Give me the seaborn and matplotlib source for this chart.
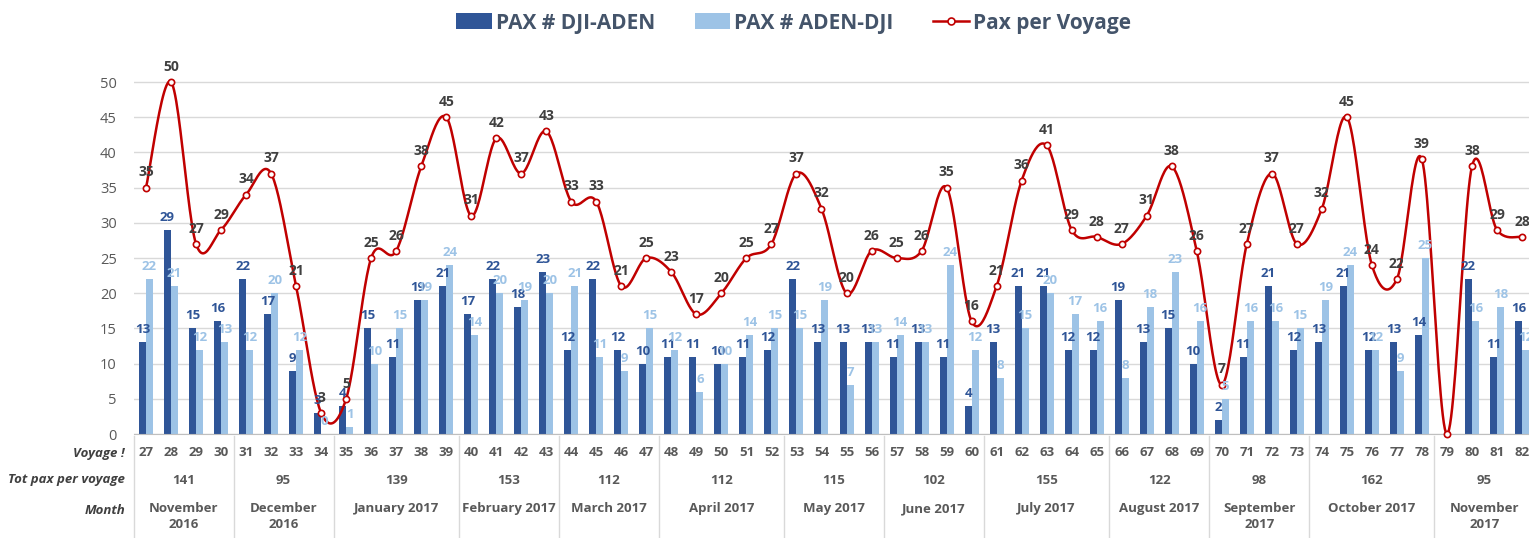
import numpy as np
import pandas as pd
import seaborn as sns
import matplotlib.pyplot as plt
from matplotlib.patches import Patch
from matplotlib.lines import Line2D
from matplotlib.transforms import blended_transform_factory

# data
voyages = list(range(27, 83))
dji_aden = [13, 29, 15, 16, 22, 17, 9, 3, 4, 15, 11, 19, 21, 17, 22, 18, 23, 12, 22, 12,
            10, 11, 11, 10, 11, 12, 22, 13, 13, 13, 11, 13, 11, 4, 13, 21, 21, 12, 12, 19,
            13, 15, 10, 2, 11, 21, 12, 13, 21, 12, 13, 14, None, 22, 11, 16]
aden_dji = [22, 21, 12, 13, 12, 20, 12, 0, 1, 10, 15, 19, 24, 14, 20, 19, 20, 21, 11, 9,
            15, 12, 6, 10, 14, 15, 15, 19, 7, 13, 14, 13, 24, 12, 8, 15, 20, 17, 16, 8,
            18, 23, 16, 5, 16, 16, 15, 19, 24, 12, 9, 25, None, 16, 18, 12]
pax_per_voyage = [35, 50, 27, 29, 34, 37, 21, 3, 5, 25, 26, 38, 45, 31, 42, 37, 43, 33, 33, 21,
                  25, 23, 17, 20, 25, 27, 37, 32, 20, 26, 25, 26, 35, 16, 21, 36, 41, 29, 28, 27,
                  31, 38, 26, 7, 27, 37, 27, 32, 45, 24, 22, 39, 0, 38, 29, 28]
months = ["November\n2016", "December\n2016", "January 2017", "February 2017", "March 2017",
          "April 2017", "May 2017", "June 2017", "July 2017", "August 2017",
          "September\n2017", "October 2017", "November\n2017"]
month_sizes = [4, 4, 5, 4, 4, 5, 4, 4, 5, 4, 4, 5, 4]
month_totals = [141, 95, 139, 153, 112, 112, 115, 102, 155, 122, 98, 162, 95]

DARK = "#2F5597"
LIGHT = "#9DC3E6"
RED = "#C00000"
GREY = "#595959"

plt.rcParams["font.family"] = ["Open Sans", "DejaVu Sans"]

df = pd.DataFrame({
    "Voyage": [str(v) for v in voyages] * 2,
    "Pax": [np.nan if v is None else v for v in dji_aden + aden_dji],
    "Route": ["PAX # DJI-ADEN"] * len(voyages) + ["PAX # ADEN-DJI"] * len(voyages),
})

fig = plt.figure(figsize=(15.29, 5.38), dpi=100)
ax = fig.add_axes([133.5 / 1529, 104 / 538, 1401 / 1529, 387.2 / 538])

sns.barplot(data=df, x="Voyage", y="Pax", hue="Route", order=[str(v) for v in voyages],
            palette=[DARK, LIGHT], width=0.56, saturation=1, legend=False, ax=ax, zorder=2)

# bar labels
for cont, col in zip(ax.containers, [DARK, LIGHT]):
    for p in cont:
        h = p.get_height()
        if np.isnan(h):
            continue
        ax.annotate(f"{int(h)}", (p.get_x() + p.get_width() / 2, h), xytext=(0, 9),
                    textcoords="offset points", ha="center", va="center",
                    color=col, fontsize=9.5, fontweight="bold", zorder=5)

# smoothed line (Excel-style bezier through the points)
x = np.arange(len(pax_per_voyage), dtype=float)
y = np.array(pax_per_voyage, dtype=float)
px = np.concatenate([[x[0]], x, [x[-1]]])
py = np.concatenate([[y[0]], y, [y[-1]]])
t = np.linspace(0, 1, 25)
cx, cy = [], []
for i in range(1, len(px) - 2):
    p0 = np.array([px[i], py[i]])
    p3 = np.array([px[i + 1], py[i + 1]])
    c1 = p0 + (np.array([px[i + 1], py[i + 1]]) - np.array([px[i - 1], py[i - 1]])) / 6
    c2 = p3 - (np.array([px[i + 2], py[i + 2]]) - np.array([px[i], py[i]])) / 6
    pts = ((1 - t) ** 3)[:, None] * p0 + (3 * (1 - t) ** 2 * t)[:, None] * c1 \
        + (3 * (1 - t) * t ** 2)[:, None] * c2 + (t ** 3)[:, None] * p3
    cx.extend(pts[:, 0])
    cy.extend(pts[:, 1])
ax.plot(cx, cy, color=RED, lw=1.8, zorder=3, clip_on=False)
ax.plot(x, y, "o", ms=4.5, mfc="white", mec=RED, mew=1.2, zorder=4, clip_on=False)
for xi, yi in zip(x, pax_per_voyage):
    if yi == 0:
        continue
    ax.annotate(f"{yi}", (xi, yi), xytext=(0, 11), textcoords="offset points",
                ha="center", va="center", color="#404040", fontsize=10,
                fontweight="bold", zorder=5)

ax.set_xlim(-0.5, len(voyages) - 0.5)
ax.set_ylim(0, 55)
ax.set_yticks(range(0, 51, 5))
ax.yaxis.grid(True, color="#D9D9D9", lw=1, zorder=0)
ax.xaxis.grid(False)
ax.set_axisbelow(True)
for s in ["top", "right", "left"]:
    ax.spines[s].set_visible(False)
ax.spines["bottom"].set_color("#BFBFBF")
ax.tick_params(axis="y", length=0, pad=12, labelsize=10.5, labelcolor=GREY)
ax.set_xticks([])
ax.set_xlabel("")
ax.set_ylabel("")
ax.set_facecolor("white")

# table under the chart
tr = blended_transform_factory(ax.transData, fig.transFigure)
hx = 125 / 1529
for label, yy in [("Voyage !", 453), ("Tot pax per voyage", 480), ("Month", 510)]:
    fig.text(hx, 1 - yy / 538, label, ha="right", va="center", fontsize=9.5,
             fontweight="bold", style="italic", color="#404040")
for i, v in enumerate(voyages):
    ax.text(i, 1 - 453 / 538, str(v), transform=tr, ha="center", va="center",
            fontsize=9.5, fontweight="bold", color=GREY)
start = 0
ax.plot([-0.5, -0.5], [0, 1 - 436 / 538], transform=tr, color="#D9D9D9", lw=1, clip_on=False)
for m, n, tot in zip(months, month_sizes, month_totals):
    mid = start + (n - 1) / 2
    ax.text(mid, 1 - 480 / 538, str(tot), transform=tr, ha="center", va="center",
            fontsize=9.5, fontweight="bold", color=GREY)
    ax.text(mid, 1 - 502 / 538, m, transform=tr, ha="center", va="top",
            fontsize=9.5, fontweight="bold", color=GREY, linespacing=1.35)
    start += n
    ax.plot([start - 0.5, start - 0.5], [0, 1 - 436 / 538], transform=tr,
            color="#D9D9D9", lw=1, clip_on=False)

handles = [Patch(facecolor=DARK), Patch(facecolor=LIGHT),
           Line2D([], [], color=RED, lw=1.8, marker="o", ms=5, mfc="white", mec=RED, mew=1.2)]
leg = fig.legend(handles, ["PAX # DJI-ADEN", "PAX # ADEN-DJI", "Pax per Voyage"],
                 loc="center", bbox_to_anchor=(0.519, 0.957), ncol=3, frameon=False,
                 handlelength=1.7, handleheight=0.8, handletextpad=0.2, columnspacing=1.9,
                 prop={"size": 15, "weight": "bold"})
for txt in leg.get_texts():
    txt.set_color("#44546A")

fig.savefig("out.png", dpi=100, facecolor="white")
